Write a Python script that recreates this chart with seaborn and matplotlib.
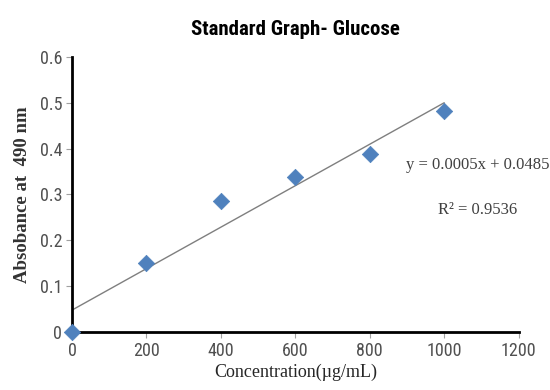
import numpy as np
import pandas as pd
import seaborn as sns
import matplotlib
matplotlib.use("Agg")
import matplotlib.pyplot as plt
from matplotlib import font_manager

conc = [0, 200, 400, 600, 800, 1000]
absorb = [0.0, 0.151, 0.286, 0.337, 0.388, 0.481]
xticks = [0, 200, 400, 600, 800, 1000, 1200]
yticks = [0, 0.1, 0.2, 0.3, 0.4, 0.5, 0.6]
eq_text = "y = 0.0005x + 0.0485"
r2_text = "R² = 0.9536"

names = {f.name for f in font_manager.fontManager.ttflist}

sns.set_theme(style="white")
cands = ['Roboto Condensed', 'DejaVu Sans Condensed', 'Liberation Sans Narrow']
narrow = [c for c in cands if c in names] + ['DejaVu Sans']
plt.rcParams['font.family'] = narrow

df = pd.DataFrame({"Concentration": conc, "Absorbance": absorb})

fig = plt.figure(figsize=(5.5, 3.9), dpi=100)
ax = fig.add_axes([0.131, 0.149, 0.812, 0.705])

coef = np.polyfit(conc, absorb, 1)
xs = np.array([min(conc), max(conc)])
sns.lineplot(x=xs, y=np.polyval(coef, xs), ax=ax, color="#7f7f7f", lw=1.0)

sns.scatterplot(data=df, x="Concentration", y="Absorbance", ax=ax, marker="D",
                s=70, color="#4F81BD", edgecolor="#4F81BD", linewidth=0.5, zorder=5,
                clip_on=False)

ax.set_xlim(0, 1200)
ax.set_ylim(0, 0.6)
ax.set_xticks(xticks)
ax.set_yticks(yticks)
ax.set_xticklabels([str(t) for t in xticks], fontsize=13, color="#505050")
ax.set_yticklabels(["0"] + [f"{t:.1f}" for t in yticks[1:]], fontsize=13, color="#505050")
ax.tick_params(axis="both", direction="out", length=4, width=0.8, color="#a0a0a0",
               bottom=True, left=True, pad=3)

for s in ["top", "right"]:
    ax.spines[s].set_visible(False)
for s in ["left", "bottom"]:
    ax.spines[s].set_color("black")
    ax.spines[s].set_linewidth(2)

serif = ["Liberation Serif", "DejaVu Serif"]
ax.set_xlabel("Concentration(µg/mL)", fontsize=13, family=serif, labelpad=3)
ax.set_ylabel("Absobance at  490 nm", fontsize=13.5, fontweight="bold",
              family=serif, color="#333333", labelpad=6)
ax.set_title("Standard Graph- Glucose", fontsize=15, fontweight="bold",
             family=narrow, color="black", pad=16)

ax.text(1090, 0.365, eq_text, fontsize=12, family=serif,
        color="#404040", ha="center", va="center", clip_on=False)
ax.text(1090, 0.266, r2_text, fontsize=12, family=serif,
        color="#404040", ha="center", va="center", clip_on=False)

fig.savefig("out.png", dpi=100)
